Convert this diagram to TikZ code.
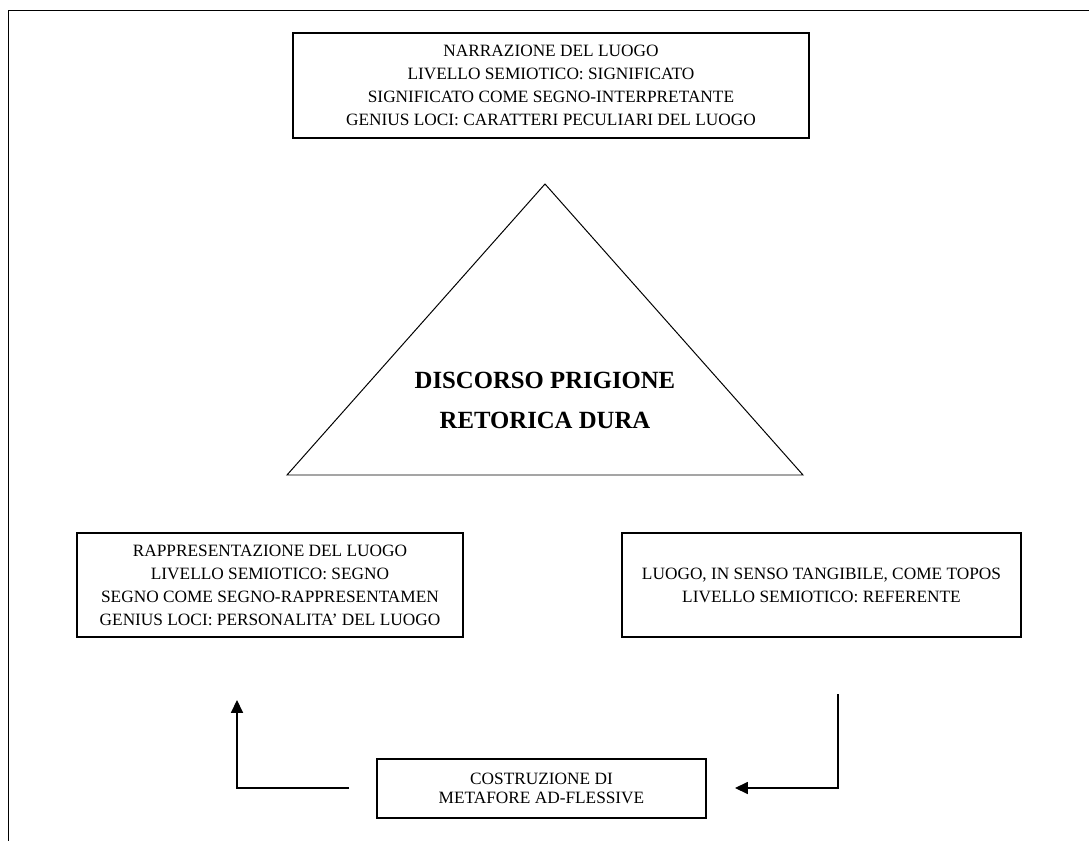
\documentclass[tikz,border=0pt]{standalone}
\usepackage{fontspec}
\setmainfont{Liberation Serif}
\usetikzlibrary{arrows.meta}

\tikzset{
    box/.style = {rectangle, draw = black, line width = 1pt, align = center, inner sep = 0pt,
                  font = \fontsize{12.3}{16.4}\selectfont},
    tip/.style = {-{Triangle[length = 3.2mm, width = 3mm]}, line width = 0.8pt}
}

\begin{document}
\begin{tikzpicture}[x = 0.25mm, y = -0.25mm]
            \useasboundingbox (0, 0) rectangle (1089, 841);
            \draw[line width = 0.7pt] (8, 841) -- (8, 10) -- (1089, 10);

            \node (narr) at (551, 85.5) [box, minimum width = 129mm, minimum height = 26.25mm]
                {NARRAZIONE DEL LUOGO\\ LIVELLO SEMIOTICO: SIGNIFICATO\\
                 SIGNIFICATO COME SEGNO-INTERPRETANTE\\ GENIUS LOCI: CARATTERI PECULIARI DEL LUOGO};
            \node (rapp) at (270, 585) [box, minimum width = 96.5mm, minimum height = 26mm]
                {RAPPRESENTAZIONE DEL LUOGO\\ LIVELLO SEMIOTICO: SEGNO\\
                 SEGNO COME SEGNO-RAPPRESENTAMEN\\ GENIUS LOCI: PERSONALITA' DEL LUOGO};
            \node (luogo) at (821.5, 585) [box, minimum width = 99.75mm, minimum height = 26mm]
                {LUOGO, IN SENSO TANGIBILE, COME TOPOS\\ LIVELLO SEMIOTICO: REFERENTE};
            \node (costr) at (541.5, 788.5) [box, minimum width = 82.25mm, minimum height = 14.75mm,
                font = \fontsize{12.3}{13.2}\selectfont]
                {COSTRUZIONE DI\\ METAFORE AD-FLESSIVE};

            % triangolo
            \coordinate (tA) at (545, 184);
            \coordinate (tB) at (287, 475);
            \coordinate (tC) at (803, 475);
            \draw[line width = 0.7pt] (tA) -- (tB) -- (tC) -- cycle;
            \node (disc) at (545, 400) [align = center, font = \fontsize{17.6}{28.4}\selectfont\bfseries]
                {DISCORSO PRIGIONE\\ RETORICA DURA};

            % frecce
            \coordinate (l0) at (349, 788);
            \coordinate (l1) at (237, 700);
            \coordinate (r0) at (838, 694);
            \coordinate (r1) at (735, 788);
            \draw[tip] (l0) -| (l1);
            \draw[tip] (r0) |- (r1);
        \end{tikzpicture}
\end{document}
